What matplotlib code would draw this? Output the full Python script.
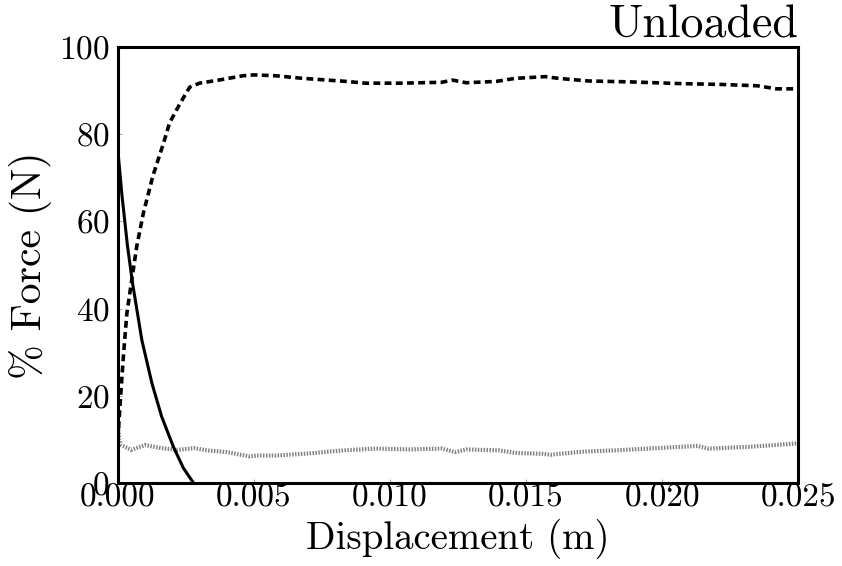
import matplotlib
matplotlib.use("Agg")
import matplotlib.pyplot as plt

plt.rcParams["font.family"] = ["cmr10", "DejaVu Serif"]
plt.rcParams["axes.formatter.use_mathtext"] = True

# decaying contact force (solid)
solid_x = [0.0, 0.00015, 0.00035, 0.00054, 0.00088, 0.00125,
           0.00161, 0.00204, 0.00241, 0.00278]
solid_y = [76.2, 66.0, 54.5, 45.8, 32.8, 22.9, 15.2, 8.3, 3.4, 0.0]

# rising force (dashed)
dash_x = [0.0, 0.00009, 0.00021, 0.00033, 0.00051, 0.0007, 0.00094, 0.00129,
          0.00168, 0.0019, 0.00228, 0.00264, 0.003, 0.0037, 0.0046, 0.005,
          0.0058, 0.0068, 0.0084, 0.0091, 0.0104, 0.0119, 0.0123, 0.0128,
          0.0139, 0.0146, 0.0157, 0.0162, 0.0173, 0.0188, 0.0207, 0.0222,
          0.0235, 0.0242, 0.025]
dash_y = [10.0, 19.0, 29.7, 38.9, 46.6, 54.5, 62.0, 70.5,
          78.0, 82.6, 87.0, 90.8, 91.7, 92.4, 93.4, 93.6,
          93.4, 92.8, 92.1, 91.7, 91.7, 91.9, 92.4, 91.8,
          92.1, 92.8, 93.2, 92.8, 92.2, 92.0, 91.6, 91.4,
          91.1, 90.4, 90.4]

# residual force (grey)
grey_x = [0.0, 0.00005, 0.00012, 0.0005, 0.001, 0.0016, 0.0022, 0.0028,
          0.00326, 0.004, 0.00485, 0.0051, 0.0058, 0.00705, 0.0083, 0.0095,
          0.0107, 0.0119, 0.0124, 0.0128, 0.014, 0.0146, 0.0156, 0.0159,
          0.0171, 0.0183, 0.0195, 0.0213, 0.0217, 0.0232, 0.025]
grey_y = [13.5, 10.0, 8.7, 7.6, 8.7, 8.0, 7.6, 8.0,
          7.5, 7.1, 6.1, 6.3, 6.3, 6.8, 7.5, 7.9,
          7.7, 7.9, 7.1, 7.7, 7.5, 6.9, 6.7, 6.5,
          7.2, 7.5, 7.9, 8.5, 7.9, 8.3, 9.1]

x_ticks = [0.0, 0.005, 0.010, 0.015, 0.020, 0.025]
x_ticklabels = ["0.000", "0.005", "0.010", "0.015", "0.020", "0.025"]
y_ticks = [0, 20, 40, 60, 80, 100]

fig = plt.figure(figsize=(8.42, 5.66), dpi=100)
ax = fig.add_axes([0.140, 0.1466, 0.808, 0.7704])

ax.plot(grey_x, grey_y, color="0.5", lw=3.0, linestyle=(0, (0.35, 0.35)))
ax.plot(solid_x, solid_y, color="black", lw=2.2)
ax.plot(dash_x, dash_y, color="black", lw=2.6, dashes=(1.9, 1.2))

ax.set_xlim(0, 0.025)
ax.set_ylim(0, 100)
ax.set_xticks(x_ticks)
ax.set_xticklabels(x_ticklabels)
ax.set_yticks(y_ticks)

for s in ax.spines.values():
    s.set_linewidth(2.2)

ax.tick_params(direction="in", length=3, width=0.6, color="0.6",
               labelsize=24)
ax.tick_params(axis="x", pad=0)
ax.tick_params(axis="y", pad=6)

ax.set_xlabel("Displacement (m)", fontsize=28, labelpad=5)
ax.set_ylabel("% Force (N)", fontsize=30, labelpad=5)
ax.set_title("Unloaded", loc="right", fontsize=33, pad=1)

fig.savefig("out.png", dpi=100)
